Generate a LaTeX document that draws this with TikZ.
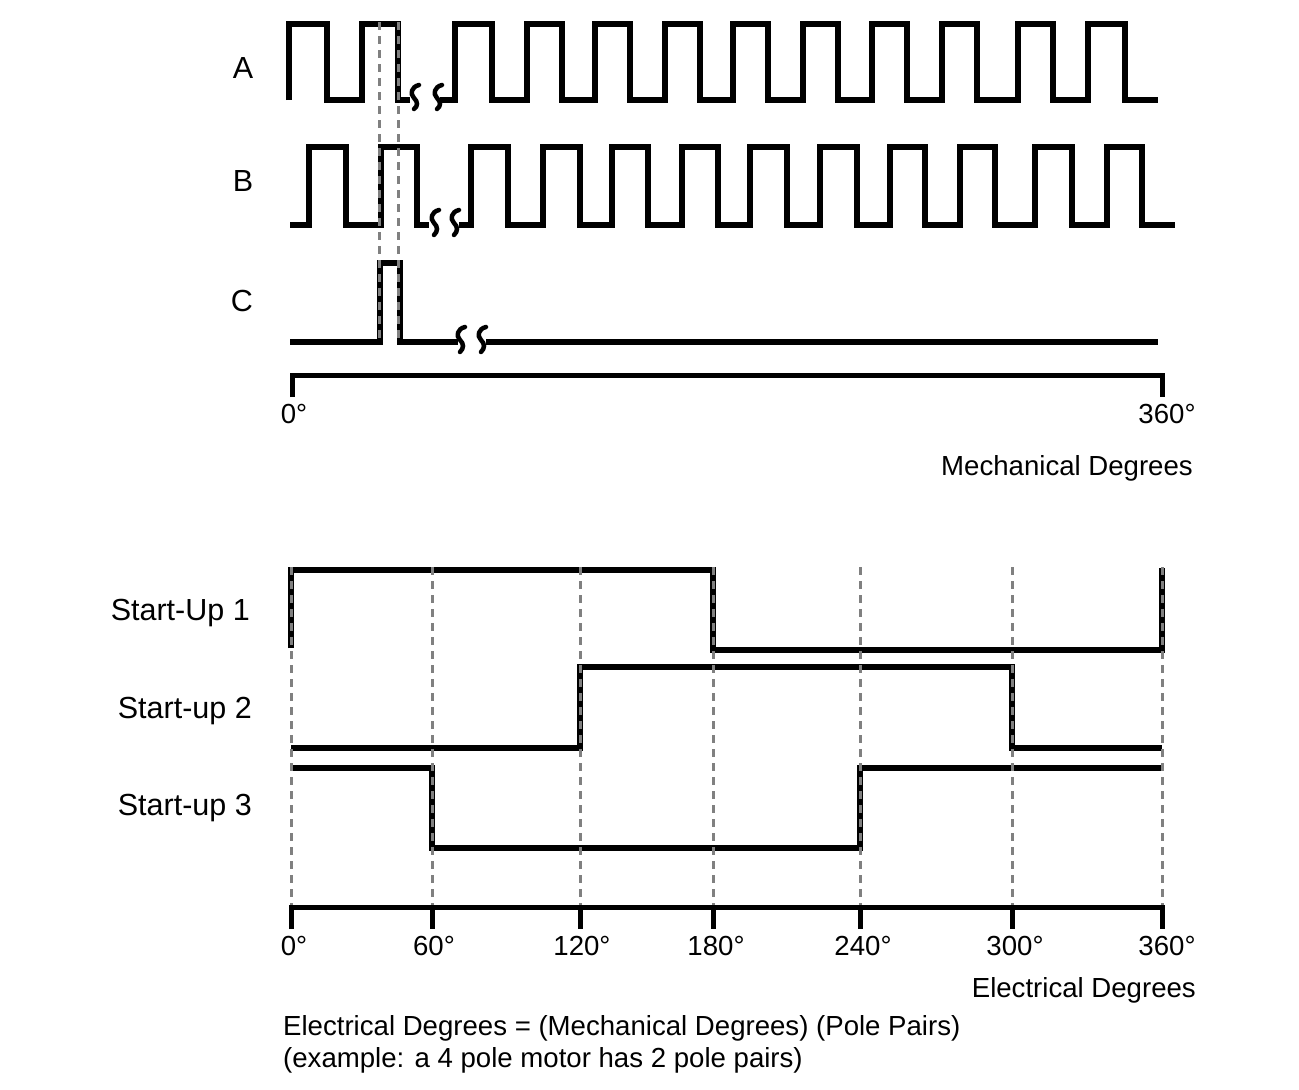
\documentclass[tikz,border=0pt]{standalone}
\usepackage{fontspec}
\setmainfont{Liberation Sans}
\begin{document}
\begin{tikzpicture}[x=1pt,y=-1pt,
  wave/.style={line width=5.5pt},
  axisline/.style={line width=5pt},
  guide/.style={draw=gray, line width=3pt, dash pattern=on 8pt off 6pt},
  brk/.style={line width=4.5pt, line cap=round},
  txt/.style={inner sep=0pt, font=\fontsize{27.6}{32}\selectfont},
  lab/.style={inner sep=0pt, font=\fontsize{30.5}{36}\selectfont}]
\useasboundingbox[fill=white] (0,0) rectangle (1299,1090);

% ---------- top: encoder signals ----------
\node[lab] (la) at (243,68) {A};
\node[lab] (lb) at (243,181) {B};
\node[lab] (lc) at (242,301) {C};

% A
\draw[wave] (289,100) -- (289,24) -- (327,24) -- (327,100) -- (362,100) -- (362,24)
  -- (398,24) -- (398,100) -- (410,100);
\draw[wave] (440,100) foreach \r/\f in {455/492,527/562,595/630,665/700,733/768,803/838,872/907,942/977,1018/1053,1088/1125}
  { -- (\r,100) -- (\r,24) -- (\f,24) -- (\f,100) } -- (1158,100);
\draw[brk] (419,85) .. controls (411,87) and (410,94) .. (414,98) .. controls (418,102) and (418,106) .. (414,109);
\draw[brk] (442,85) .. controls (434,87) and (433,94) .. (437,98) .. controls (441,102) and (441,106) .. (437,109);

% B
\draw[wave] (290,225) -- (309,225) -- (309,147) -- (346,147) -- (346,225) -- (381,225)
  -- (381,147) -- (417,147) -- (417,225) -- (429,225);
\draw[wave] (459,225) foreach \r/\f in {471/508,543/580,612/648,682/718,750/787,820/857,890/925,960/995,1035/1072,1107/1142}
  { -- (\r,225) -- (\r,147) -- (\f,147) -- (\f,225) } -- (1175,225);
\draw[brk] (439,210) .. controls (431,212) and (430,219) .. (434,223) .. controls (438,227) and (438,231) .. (434,235);
\draw[brk] (459,210) .. controls (451,212) and (450,219) .. (454,223) .. controls (458,227) and (458,231) .. (454,235);

% C
\draw[wave] (290,342) -- (380,342) -- (380,263) -- (400,263) -- (400,342) -- (458,342);
\draw[wave] (486,342) -- (1158,342);
\draw[brk] (465,327) .. controls (457,329) and (456,336) .. (460,340) .. controls (464,344) and (464,348) .. (460,352);
\draw[brk] (486,327) .. controls (478,329) and (477,336) .. (481,340) .. controls (485,344) and (485,348) .. (481,352);

% guides
\draw[guide] (379.5,22) -- (379.5,342);
\draw[guide] (398.5,22) -- (398.5,342);

% mechanical axis
\draw[axisline] (292,397) -- (292,375) -- (1162,375) -- (1162,397);
\node[txt] (m0) at (294,414) {0°};
\node[txt] (m360) at (1167,414) {360°};
\node[txt, anchor=east] (mech) at (1193,468) {Mechanical Degrees};

% ---------- bottom: start-up signals ----------
\node[lab, anchor=east] (s1) at (250,613) {Start-Up 1};
\node[lab, anchor=east] (s2) at (252,711) {Start-up 2};
\node[lab, anchor=east] (s3) at (252,808) {Start-up 3};

\draw[wave] (291,648) -- (291,570) -- (713,570) -- (713,650) -- (1162,650) -- (1162,568);
\draw[wave] (291,748) -- (580,748) -- (580,667) -- (1012,667) -- (1012,748) -- (1162,748);
\draw[wave] (291,768) -- (432,768) -- (432,848) -- (860,848) -- (860,768) -- (1162,768);

\foreach \x in {291,432,580,713,860,1012,1162}
  \draw[guide] (\x,567) -- (\x,905);

% electrical axis
\draw[axisline] (291,929) -- (291,907) -- (1162,907) -- (1162,929);
\foreach \x in {432,580,713,860,1012}
  \draw[axisline] (\x,907) -- (\x,929);
\node[txt] (e0) at (294,946) {0°};
\node[txt] (e60) at (434,946) {60°};
\node[txt] (e120) at (582,946) {120°};
\node[txt] (e180) at (716,946) {180°};
\node[txt] (e240) at (863,946) {240°};
\node[txt] (e300) at (1015,946) {300°};
\node[txt] (e360) at (1167,946) {360°};
\node[txt, anchor=east] (elec) at (1196,990) {Electrical Degrees};

\node[txt, anchor=west] (f1) at (283,1028) {Electrical Degrees = (Mechanical Degrees) (Pole Pairs)};
\node[txt, anchor=west] (f2) at (283,1060) {(example: a 4 pole motor has 2 pole pairs)};
\end{tikzpicture}
\end{document}
